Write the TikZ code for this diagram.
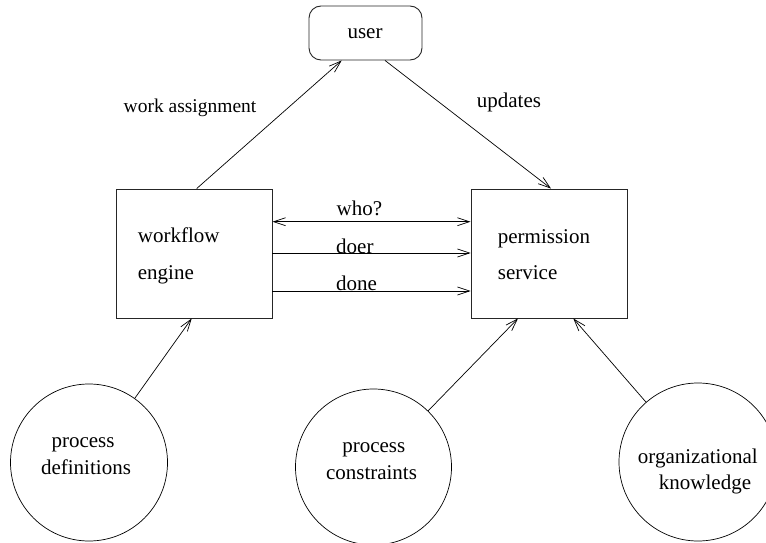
\documentclass[tikz,border=0pt]{standalone}
\usepackage{fontspec}
\setmainfont{Liberation Serif}
\usetikzlibrary{arrows.meta}
\begin{document}
\begin{tikzpicture}[x=1pt,y=-1pt,
  font=\fontsize{21}{25}\selectfont,
  boxnode/.style={draw=black!85,line width=0.9pt,rectangle,inner sep=0pt,minimum width=156pt,minimum height=129pt},
  usernode/.style={draw=black!85,line width=0.9pt,rectangle,rounded corners=12pt,inner sep=0pt,minimum width=113pt,minimum height=54pt},
  circnode/.style={draw=black,line width=0.7pt,circle,inner sep=0pt},
  txt/.style={inner sep=0pt},
  conn/.style={line width=0.7pt,-{Straight Barb[length=12pt,width=8pt]}},
  conn2/.style={line width=0.7pt,{Straight Barb[length=12pt,width=8pt]}-{Straight Barb[length=12pt,width=8pt]}}]
\useasboundingbox (0,0) rectangle (766,543);
% nodes
\node[usernode] (user) at (365.5,33) {};
\node[txt,anchor=base] (usertxt) at (365,38.5) {user};
\node[boxnode] (wf) at (194,253.5) {};
\node[boxnode] (ps) at (549,253.5) {};
\node[txt,anchor=base west] (wf1) at (137.7,242.2) {workflow};
\node[txt,anchor=base west] (wf2) at (137.7,279.3) {engine};
\node[txt,anchor=base west] (ps1) at (497.7,243.2) {permission};
\node[txt,anchor=base west] (ps2) at (497.7,279.5) {service};
\node[circnode,minimum size=157pt] (c1) at (89,462.5) {};
\node[circnode,minimum size=156pt] (c2) at (373.5,467) {};
\node[circnode,minimum size=158pt] (c3) at (698,462) {};
\node[txt,anchor=base] (c1a) at (83,447.7) {process};
\node[txt,anchor=base] (c1b) at (86,474.3) {definitions};
\node[txt,anchor=base] (c2a) at (373.8,452.7) {process};
\node[txt,anchor=base] (c2b) at (371.5,479) {constraints};
\node[txt,anchor=base] (c3a) at (697.8,463.3) {organizational};
\node[txt,anchor=base] (c3b) at (705,489.3) {knowledge};
% connectors
\draw[conn] ([xshift=2.7pt]wf.north) -- ([xshift=-23.8pt]user.south);
\draw[conn] ([xshift=19.5pt]user.south) -- ([xshift=2pt]ps.north);
\draw[conn2] ([yshift=31.8pt]wf.east) -- ([yshift=31.8pt]ps.west);
\draw[conn] ([yshift=0.5pt]wf.east) -- ([yshift=0.5pt]ps.west);
\draw[conn] ([yshift=-37.5pt]wf.east) -- ([yshift=-37.5pt]ps.west);
\draw[conn] (c1) -- ([xshift=-2.3pt]wf.south);
\draw[conn] (c2) -- ([xshift=-31pt]ps.south);
\draw[conn] (c3) -- ([xshift=24.3pt]ps.south);
% labels
\node[txt,anchor=base west,font=\fontsize{19.5}{23}\selectfont] (lwa) at (123.5,113) {work assignment};
\node[txt,anchor=base west] (lup) at (476.7,107.5) {updates};
\node[txt,anchor=base west] (lwho) at (336.5,215) {who?};
\node[txt,anchor=base west] (ldoer) at (336,253.3) {doer};
\node[txt,anchor=base west] (ldone) at (336,290.7) {done};
\end{tikzpicture}
\end{document}
